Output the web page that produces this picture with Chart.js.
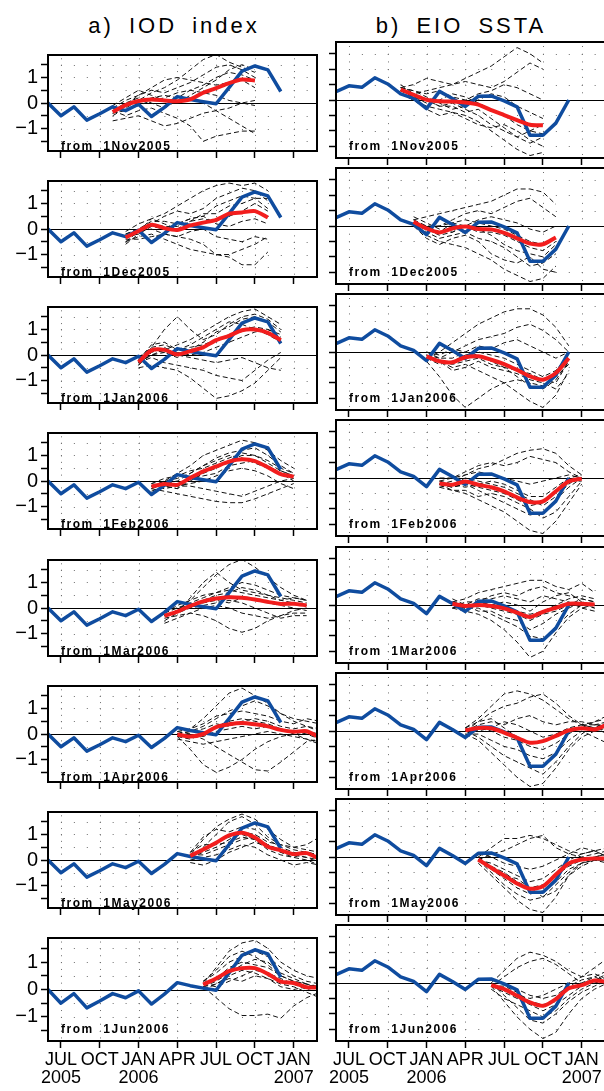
<!DOCTYPE html>
<html>
<head>
<meta charset="utf-8">
<script src="https://cdn.jsdelivr.net/npm/chart.js@4.4.0/dist/chart.umd.min.js"></script>
<style>
html, body { margin:0; padding:0; background:#fff; overflow:hidden; }
#page { position:relative; width:604px; height:1091px; overflow:hidden; }
canvas { position:absolute; }
.title { position:absolute; width:300px; text-align:center; font-family:'Liberation Sans', Arial, sans-serif; font-size:22px; line-height:22px; letter-spacing:3px; word-spacing:6px; white-space:pre; color:#000; }
.from { position:absolute; font-family:'Liberation Sans', Arial, sans-serif; font-weight:bold; font-size:12px; line-height:12px; letter-spacing:1.5px; white-space:pre; color:#000; }
</style>
</head>
<body>
<div id="page"></div>
<script>
// axes
const months = ['Jun2005','Jul2005','Aug2005','Sep2005','Oct2005','Nov2005','Dec2005','Jan2006','Feb2006','Mar2006','Apr2006','May2006',
                'Jun2006','Jul2006','Aug2006','Sep2006','Oct2006','Nov2006','Dec2006','Jan2007','Feb2007','Mar2007','Apr2007','May2007']
const tickMonths = ['Jul2005','Oct2005','Jan2006','Apr2006','Jul2006','Oct2006','Jan2007']
const tickLabels = [['JUL','2005'],['OCT',''],['JAN','2006'],['APR',''],['JUL',''],['OCT',''],['JAN','2007']]
const yTicks = [-1.5,-1,-0.5,0,0.5,1,1.5]
const yLabels = ['','−1','','0','','1','']
const panelTitles = ['a) IOD index','b) EIO SSTA']
const startDates = ['1Nov2005','1Dec2005','1Jan2006','1Feb2006','1Mar2006','1Apr2006','1May2006','1Jun2006']

// observed (Jun2005 .. Dec2006)
const iodObs = [0,-0.5,-0.15,-0.67,-0.42,-0.15,-0.3,-0.05,-0.53,-0.17,0.25,0.14,0.05,-0.03,0.6,1.25,1.45,1.3,0.45]
const eioObs = [0.27,0.46,0.41,0.72,0.52,0.2,0.05,-0.28,0.28,0.05,-0.21,0.12,0.13,-0.03,-0.22,-1.14,-1.14,-0.75,0]

// ensemble mean, 12 months from each start
const iodMean = [
  [-0.35,-0.08,0.08,0.14,0.1,0.07,0.14,0.4,0.58,0.78,0.92,0.88],
  [-0.33,-0.08,0.17,0.03,-0.04,0.14,0.25,0.36,0.6,0.65,0.7,0.45],
  [-0.28,0.18,0.2,0.02,0.15,0.3,0.58,0.75,0.97,1.0,0.87,0.58],
  [-0.22,-0.12,-0.15,0.12,0.38,0.57,0.76,0.85,0.78,0.54,0.27,0.17],
  [-0.3,-0.14,0.08,0.26,0.37,0.42,0.4,0.33,0.24,0.16,0.17,0.1],
  [-0.02,-0.1,0,0.27,0.38,0.43,0.38,0.3,0.16,0.09,0.11,-0.13],
  [0.16,0.41,0.68,0.96,1.07,0.88,0.52,0.38,0.23,0.27,0.05,-0.05],
  [0.18,0.4,0.67,0.78,0.78,0.57,0.29,0.24,0.08,0.08,0.05,0.03]
]
const eioMean = [
  [0.34,0.17,0.01,-0.04,-0.05,-0.08,-0.15,-0.33,-0.49,-0.65,-0.8,-0.82],
  [0.14,-0.08,-0.21,-0.08,-0.02,-0.1,-0.11,-0.22,-0.4,-0.57,-0.59,-0.37],
  [-0.14,-0.3,-0.33,-0.17,-0.14,-0.25,-0.39,-0.58,-0.79,-0.9,-0.68,-0.2],
  [-0.18,-0.22,-0.11,-0.22,-0.3,-0.43,-0.63,-0.78,-0.76,-0.43,-0.11,-0.02],
  [0.04,-0.03,0,-0.03,-0.11,-0.25,-0.39,-0.22,-0.09,0.04,0.04,0.02],
  [0.02,0.1,0.09,-0.05,-0.22,-0.38,-0.33,-0.16,0.02,0.09,0.05,0.22],
  [-0.08,-0.35,-0.6,-0.86,-1.03,-0.95,-0.57,-0.21,-0.08,-0.05,-0.05,-0.05],
  [-0.07,-0.2,-0.41,-0.63,-0.74,-0.52,-0.17,-0.07,0.08,0.04,0.05,0.05]
]

// ensemble members (dashed)
const iodEnsNov2005 = [
  [-0.5,-0.2,0.1,0.4,0.6,0.9,1.3,1.7,1.9,1.6,1.4,1.2],
  [-0.2,0.1,0.3,0.5,0.4,0.6,0.8,1.1,1.4,1.5,1.3,1.0],
  [-0.4,-0.3,0.0,0.2,0.3,0.2,0.5,0.7,1.0,1.2,1.1,0.9],
  [-0.3,-0.5,-0.3,-0.2,-0.4,-0.6,-0.9,-1.5,-1.3,-1.2,-1.1,-1.1],
  [-0.7,-0.6,-0.5,-0.7,-0.9,-0.8,-0.6,-0.4,-0.3,-0.2,0.0,0.1],
  [-0.1,0.2,0.5,0.3,0.1,0.0,0.3,0.6,0.9,1.3,1.5,1.3],
  [-0.3,0.0,0.2,0.0,-0.2,0.1,0.2,0.0,-0.3,-0.6,-0.9,-1.2],
  [-0.4,-0.1,0.3,0.6,0.9,1.0,0.9,0.8,0.7,0.8,0.9,0.6],
  [-0.2,-0.3,-0.1,0.1,0.2,0.4,0.5,0.4,0.3,0.1,0.0,-0.1]
]
const iodEnsDec2005 = [
  [-0.5,-0.1,0.4,0.6,0.9,1.2,1.5,1.7,1.8,1.7,1.8,1.5],
  [-0.2,0.0,0.2,0.5,0.7,0.6,0.8,1.2,1.4,1.6,1.5,1.1],
  [-0.3,-0.2,0.1,0.0,0.2,0.4,0.5,0.9,1.1,1.3,1.2,0.8],
  [-0.5,-0.3,-0.2,-0.4,-0.6,-0.8,-0.9,-1.0,-1.1,-1.4,-1.4,-0.9],
  [-0.4,-0.4,-0.3,-0.2,-0.3,-0.4,-0.6,-1.0,-1.0,-0.8,-0.6,-0.3],
  [-0.1,0.2,0.4,0.2,0.0,0.3,0.4,0.3,0.5,0.7,1.0,0.7],
  [-0.3,-0.1,0.0,-0.2,-0.3,-0.1,0.0,-0.3,-0.4,-0.5,-0.3,-0.4],
  [-0.6,-0.2,0.2,0.1,0.1,0.3,0.6,0.6,0.9,1.0,1.2,1.2],
  [-0.2,0.0,0.3,0.3,0.2,0.4,0.5,0.2,0.1,0.3,0.4,0.2]
]
const iodEnsJan2006 = [
  [-0.4,0.3,1.0,1.5,1.0,0.6,0.8,1.2,1.5,1.6,1.4,1.0],
  [-0.3,0.0,0.2,0.4,0.6,0.9,1.2,1.5,1.7,1.8,1.5,1.2],
  [-0.2,0.2,0.1,-0.1,0.2,0.5,0.9,1.1,1.4,1.5,1.3,0.9],
  [-0.5,-0.4,-0.5,-0.6,-0.9,-1.3,-1.7,-1.6,-1.4,-1.1,-0.6,-0.1],
  [-0.3,-0.1,-0.3,-0.4,-0.5,-0.6,-0.8,-0.9,-1.0,-0.6,-0.2,0.1],
  [-0.1,0.3,0.4,0.2,0.3,0.4,0.6,0.8,1.0,1.1,1.0,0.7],
  [-0.4,0.1,0.3,0.0,-0.1,-0.2,-0.3,-0.2,-0.1,-0.3,-0.5,-0.6],
  [-0.2,0.4,0.5,0.2,0.4,0.7,1.0,1.3,1.2,1.0,0.8,0.5],
  [-0.3,0.0,0.1,0.1,0.0,0.1,0.3,0.5,0.7,0.9,1.0,0.8]
]
const iodEnsFeb2006 = [
  [-0.3,0.0,0.3,0.6,1.0,1.2,1.4,1.6,1.5,1.2,0.8,0.5],
  [-0.2,-0.1,0.0,0.3,0.6,0.9,1.1,1.2,1.3,1.0,0.6,0.3],
  [-0.1,-0.2,-0.3,0.0,0.3,0.5,0.8,1.0,1.0,0.7,0.4,0.2],
  [-0.3,-0.4,-0.5,-0.6,-0.7,-0.8,-0.85,-0.85,-0.7,-0.5,-0.3,-0.1],
  [-0.2,-0.3,-0.2,-0.1,0.0,0.2,0.4,0.5,0.4,0.2,-0.1,-0.3],
  [-0.1,0.1,0.2,0.4,0.5,0.7,0.9,1.1,1.0,0.8,0.5,0.3],
  [-0.4,-0.2,-0.3,0.1,0.2,0.3,0.6,0.7,0.8,0.6,0.3,0.0],
  [-0.2,0.0,0.1,0.3,0.6,0.8,1.0,0.9,0.7,0.5,0.4,0.2],
  [-0.3,-0.1,-0.2,-0.2,-0.3,-0.4,-0.5,-0.6,-0.4,-0.2,0.0,0.1]
]
const iodEnsMar2006 = [
  [-0.3,-0.1,0.3,0.8,1.3,1.7,1.9,1.6,1.2,0.8,0.5,0.3],
  [-0.5,-0.2,0.4,1.0,1.4,1.0,0.7,0.6,0.5,0.4,0.3,0.2],
  [-0.2,0.0,0.2,0.4,0.6,0.8,1.0,0.9,0.7,0.5,0.4,0.3],
  [-0.4,-0.3,-0.2,-0.3,-0.5,-0.8,-0.95,-0.8,-0.5,-0.3,-0.2,-0.2],
  [-0.3,-0.2,0.0,0.1,0.2,0.3,0.2,0.0,-0.2,-0.4,-0.3,-0.3],
  [-0.2,0.1,0.3,0.5,0.6,0.7,0.6,0.5,0.4,0.3,0.4,0.3],
  [-0.6,-0.4,-0.2,0.0,0.1,0.0,-0.2,-0.3,-0.4,-0.3,-0.1,0.0],
  [-0.1,0.0,0.1,0.3,0.5,0.6,0.8,0.7,0.5,0.3,0.2,0.1],
  [-0.3,-0.1,0.1,0.2,0.3,0.2,0.4,0.3,0.2,0.1,0.0,-0.1]
]
const iodEnsApr2006 = [
  [0.0,0.2,0.6,1.1,1.6,1.8,1.5,1.2,0.8,0.6,0.5,0.4],
  [-0.1,-0.6,-1.2,-1.5,-1.3,-1.0,-0.6,-0.3,-0.1,0.0,0.1,0.0],
  [0.1,0.0,-0.2,-0.5,-0.8,-1.1,-1.4,-1.45,-1.1,-0.7,-0.3,-0.2],
  [0.0,0.1,0.3,0.6,0.9,1.1,1.3,1.1,0.8,0.5,0.3,0.2],
  [-0.1,-0.2,0.0,0.3,0.5,0.6,0.5,0.4,0.2,0.0,-0.2,-0.4],
  [0.1,0.2,0.4,0.7,0.8,0.9,0.8,0.7,0.5,0.4,0.6,0.5],
  [-0.2,-0.3,-0.4,-0.3,-0.2,-0.1,0.0,0.1,0.0,-0.1,-0.2,-0.3],
  [0.0,0.1,0.2,0.4,0.3,0.5,0.6,0.5,0.3,0.2,0.3,0.1],
  [-0.1,0.0,-0.1,0.1,0.2,0.3,0.2,0.3,0.2,0.1,0.0,-0.2]
]
const iodEnsMay2006 = [
  [0.2,0.8,1.3,1.6,1.8,1.6,1.2,0.8,0.5,0.6,0.9,1.1],
  [0.1,0.5,1.0,1.5,1.7,1.4,0.9,0.6,0.4,0.3,0.2,0.1],
  [0.3,0.9,1.2,1.1,1.3,1.2,0.8,0.5,0.3,0.2,0.3,0.4],
  [0.0,0.1,0.2,0.4,0.6,0.5,0.2,0.0,-0.2,-0.1,-0.2,-0.3],
  [0.2,0.4,0.7,0.9,1.0,0.8,0.6,0.4,0.2,0.1,0.0,-0.1],
  [-0.1,-0.2,0.0,0.3,0.5,0.7,0.5,0.3,0.1,0.0,-0.2,-0.2],
  [0.1,0.3,0.5,0.8,1.1,1.0,0.7,0.6,0.5,0.4,0.3,0.2],
  [0.3,0.6,0.6,0.7,0.9,0.8,0.4,0.2,0.1,0.3,0.2,0.0],
  [0.2,0.2,0.4,0.6,0.8,0.9,0.6,0.3,0.2,0.1,-0.1,-0.1]
]
const iodEnsJun2006 = [
  [0.2,0.8,1.4,1.7,1.8,1.5,1.0,0.7,0.5,0.4,0.6,0.9],
  [0.1,-0.3,-0.7,-0.95,-0.95,-0.9,-1.05,-0.6,-0.3,-0.1,0.0,0.1],
  [0.3,0.6,1.0,1.2,1.4,1.2,0.8,0.5,0.3,0.2,0.0,-0.1],
  [0.0,0.2,0.5,0.7,0.6,0.4,0.2,0.1,-0.1,-0.3,-0.2,-0.2],
  [0.2,0.4,0.8,1.0,0.9,0.8,0.5,0.3,0.2,0.1,0.2,0.3],
  [0.1,0.3,0.6,0.9,1.1,1.0,0.6,0.4,0.2,0.0,-0.1,-0.2],
  [0.2,0.1,0.3,0.5,0.7,0.6,0.4,0.2,0.0,0.1,0.3,0.2],
  [0.3,0.7,1.2,1.4,1.2,0.9,0.5,0.3,0.2,0.0,0.0,0.1],
  [0.1,0.2,0.4,0.3,0.5,0.4,0.1,0.0,0.1,0.2,0.0,-0.1]
]
const eioEnsNov2005 = [
  [0.4,0.5,0.7,0.6,0.5,0.7,0.9,1.1,1.4,1.7,1.5,1.2],
  [0.3,0.2,0.3,0.4,0.5,0.6,0.5,0.4,0.6,0.9,1.2,1.0],
  [0.2,0.0,-0.2,-0.3,-0.4,-0.5,-0.7,-1.0,-1.3,-1.6,-1.8,-1.7],
  [0.5,0.2,0.0,-0.2,-0.1,-0.3,-0.5,-0.8,-1.0,-1.2,-1.4,-1.2],
  [0.3,0.1,-0.1,0.0,0.2,0.1,-0.1,-0.3,-0.5,-0.8,-1.0,-1.1],
  [0.4,0.3,0.1,-0.1,-0.3,-0.2,0.0,0.2,0.1,-0.2,-0.4,-0.6],
  [0.2,0.0,-0.3,-0.5,-0.4,-0.6,-0.8,-0.9,-0.8,-1.0,-1.3,-1.5],
  [0.4,0.3,0.2,0.3,0.1,0.0,0.2,0.3,0.5,0.4,0.2,0.0],
  [0.3,0.1,0.0,-0.2,-0.2,-0.4,-0.3,-0.6,-0.9,-1.2,-1.0,-0.8]
]
const eioEnsDec2005 = [
  [0.2,0.3,0.4,0.5,0.6,0.7,0.8,1.0,1.2,1.2,1.1,0.7],
  [0.1,-0.1,0.0,0.2,0.4,0.5,0.4,0.6,0.8,0.9,0.6,0.3],
  [0.0,-0.3,-0.5,-0.6,-0.7,-0.9,-1.1,-1.4,-1.6,-1.8,-1.7,-1.3],
  [0.2,-0.2,-0.4,-0.3,-0.2,-0.4,-0.5,-0.7,-1.0,-1.3,-1.2,-0.9],
  [0.1,0.0,-0.2,0.1,0.2,0.1,0.0,-0.1,-0.3,-0.5,-0.6,-0.4],
  [0.3,0.1,-0.1,-0.2,0.0,-0.1,-0.3,-0.6,-0.8,-0.9,-1.0,-0.6],
  [0.0,-0.4,-0.6,-0.4,-0.3,-0.5,-0.9,-1.1,-1.2,-1.0,-1.4,-1.5],
  [0.2,0.0,0.0,0.1,0.0,0.2,0.3,0.2,0.1,-0.1,-0.2,0.0],
  [0.1,-0.1,-0.3,-0.2,0.0,-0.2,-0.2,-0.3,-0.5,-0.7,-0.8,-0.5]
]
const eioEnsJan2006 = [
  [-0.2,0.0,0.3,0.6,0.9,1.1,1.3,1.4,1.4,1.2,0.8,0.2],
  [-0.1,-0.2,0.0,0.2,0.4,0.5,0.6,0.8,0.9,0.7,0.4,0.0],
  [-0.3,-0.8,-1.4,-1.8,-1.5,-1.2,-1.0,-0.9,-1.0,-1.1,-0.8,-0.4],
  [-0.1,-0.3,-0.5,-0.4,-0.6,-0.8,-1.0,-1.3,-1.6,-1.8,-1.4,-0.6],
  [0.0,-0.2,-0.2,0.0,-0.1,-0.3,-0.5,-0.8,-1.1,-1.2,-0.9,-0.3],
  [-0.2,-0.4,-0.3,-0.1,0.0,-0.1,-0.2,-0.4,-0.6,-0.8,-0.6,-0.1],
  [-0.1,-0.3,-0.6,-0.5,-0.3,-0.5,-0.6,-0.7,-0.9,-1.0,-1.2,-0.7],
  [0.0,-0.1,0.1,0.0,0.2,0.1,0.3,0.4,0.2,0.0,-0.2,0.0],
  [-0.2,-0.3,-0.4,-0.3,-0.2,-0.4,-0.5,-0.6,-0.7,-0.9,-1.0,-0.3]
]
const eioEnsFeb2006 = [
  [-0.2,-0.1,0.1,0.3,0.4,0.6,0.8,0.9,0.95,0.8,0.4,0.1],
  [-0.1,0.0,0.2,0.4,0.5,0.4,0.5,0.7,0.6,0.5,0.2,0.0],
  [-0.3,-0.4,-0.5,-0.7,-0.9,-1.1,-1.4,-1.7,-1.8,-1.4,-0.8,-0.2],
  [-0.2,-0.3,-0.2,-0.4,-0.6,-0.8,-1.0,-1.2,-1.1,-0.7,-0.3,0.0],
  [-0.1,-0.2,0.0,-0.1,-0.2,-0.3,-0.5,-0.7,-0.9,-0.6,-0.2,0.1],
  [-0.3,-0.2,-0.3,-0.2,-0.1,-0.2,-0.4,-0.6,-0.6,-0.3,0.0,0.1],
  [-0.2,-0.4,-0.4,-0.6,-0.5,-0.6,-0.8,-1.0,-1.3,-1.1,-0.6,-0.1],
  [0.0,0.0,0.1,0.2,0.1,0.0,-0.1,-0.2,-0.1,0.0,0.1,0.0],
  [-0.2,-0.3,-0.2,-0.3,-0.4,-0.5,-0.7,-0.9,-0.8,-0.4,-0.1,-0.1]
]
const eioEnsMar2006 = [
  [0.1,0.2,0.4,0.5,0.6,0.7,0.8,0.8,0.6,0.5,0.7,0.4],
  [0.0,-0.1,0.1,0.3,0.4,0.3,0.5,0.6,0.4,0.3,0.2,0.1],
  [-0.1,-0.2,-0.3,-0.5,-0.8,-1.2,-1.7,-1.5,-0.9,-0.4,-0.1,0.0],
  [0.0,-0.1,-0.1,-0.3,-0.5,-0.7,-1.0,-1.1,-0.7,-0.3,0.0,-0.1],
  [0.2,0.0,0.0,0.1,0.0,-0.2,-0.3,-0.2,0.0,0.2,0.3,0.2],
  [-0.1,0.0,0.2,0.2,0.3,0.2,0.1,0.3,0.2,0.1,-0.1,-0.2],
  [0.1,0.0,-0.2,-0.2,-0.4,-0.5,-0.8,-0.6,-0.3,-0.1,0.1,0.0],
  [0.0,-0.1,0.0,-0.1,-0.2,-0.3,-0.5,-0.3,-0.2,0.0,0.2,0.1],
  [-0.1,0.1,0.1,0.0,0.1,0.0,-0.2,0.1,0.3,0.4,0.1,-0.1]
]
const eioEnsApr2006 = [
  [0.1,0.4,0.8,1.2,1.3,1.2,1.0,0.7,0.4,0.2,0.3,0.5],
  [0.0,0.3,0.6,0.8,0.9,1.1,1.2,0.9,0.5,0.2,0.1,0.3],
  [-0.1,-0.3,-0.7,-1.1,-1.5,-1.8,-1.7,-1.2,-0.6,-0.2,0.0,0.1],
  [0.0,-0.2,-0.5,-0.8,-1.0,-1.2,-1.4,-1.0,-0.5,-0.1,0.2,0.3],
  [0.1,0.0,0.1,0.3,0.2,0.0,-0.2,-0.1,0.1,0.2,0.1,-0.1],
  [0.0,0.2,0.3,0.2,0.4,0.5,0.3,0.2,0.3,0.3,0.2,0.2],
  [-0.1,-0.1,-0.3,-0.5,-0.6,-0.8,-0.9,-0.7,-0.3,0.0,-0.2,-0.4],
  [0.1,0.3,0.4,0.1,-0.2,-0.4,-0.3,-0.2,0.0,0.1,0.3,0.4],
  [0.0,0.1,0.0,-0.2,-0.3,-0.5,-0.6,-0.4,-0.1,0.2,0.2,0.1]
]
const eioEnsMay2006 = [
  [0.0,0.3,0.6,0.6,0.7,0.6,0.4,0.2,0.1,0.2,0.3,0.4],
  [-0.1,0.1,0.2,0.4,0.6,0.7,0.3,0.1,0.0,0.1,0.2,0.1],
  [-0.2,-0.6,-1.0,-1.4,-1.7,-1.8,-1.3,-0.6,-0.2,0.0,0.1,0.0],
  [-0.1,-0.5,-0.9,-1.2,-1.4,-1.3,-0.9,-0.5,-0.2,-0.1,-0.1,-0.2],
  [0.0,-0.3,-0.5,-0.8,-1.0,-0.9,-0.6,-0.3,-0.1,0.0,0.1,0.0],
  [-0.1,-0.2,-0.4,-0.6,-0.8,-0.7,-0.4,-0.1,0.1,0.2,0.0,-0.1],
  [0.0,-0.4,-0.7,-1.0,-1.2,-1.1,-0.8,-0.4,-0.2,-0.1,-0.2,-0.1],
  [0.1,0.0,-0.2,-0.3,-0.4,-0.3,-0.1,0.1,0.3,0.2,0.0,0.1],
  [-0.1,-0.3,-0.6,-0.7,-1.0,-1.3,-1.1,-0.6,-0.3,-0.1,-0.1,-0.2]
]
const eioEnsJun2006 = [
  [0.0,0.4,0.8,1.0,0.9,0.7,0.4,0.2,0.5,0.8,0.6,0.4],
  [-0.1,0.2,0.5,0.7,0.8,0.6,0.3,0.0,0.2,0.4,0.3,0.2],
  [-0.1,-0.6,-1.1,-1.5,-1.8,-1.6,-1.0,-0.5,-0.2,0.0,0.1,0.0],
  [0.0,-0.4,-0.8,-1.2,-1.3,-1.0,-0.6,-0.3,-0.1,0.1,-0.1,-0.2],
  [-0.1,-0.3,-0.5,-0.7,-0.9,-0.7,-0.4,-0.1,0.1,0.2,0.3,0.1],
  [0.1,0.0,-0.2,-0.4,-0.5,-0.4,-0.1,0.1,0.2,0.0,-0.1,-0.1],
  [-0.2,-0.5,-0.7,-0.9,-1.1,-0.9,-0.5,-0.2,0.0,0.1,0.0,0.1],
  [0.0,-0.2,-0.4,-0.5,-0.4,-0.2,0.0,0.2,0.3,0.1,0.0,-0.1],
  [-0.1,-0.1,-0.3,-0.6,-0.7,-0.6,-0.2,0.0,0.1,0.3,0.2,0.0]
]
const iodEns = [iodEnsNov2005, iodEnsDec2005, iodEnsJan2006, iodEnsFeb2006, iodEnsMar2006, iodEnsApr2006, iodEnsMay2006, iodEnsJun2006]
const eioEns = [eioEnsNov2005, eioEnsDec2005, eioEnsJan2006, eioEnsFeb2006, eioEnsMar2006, eioEnsApr2006, eioEnsMay2006, eioEnsJun2006]

// layout
const plotW = 269, plotH = 116, yAxisW = 48
const colLeft = [48, 336]
const rowTop = [42, 168, 294, 420, 547, 673, 799, 925]
const page = document.getElementById('page')

const gradsPlugin = {
    id: 'grads',
    beforeDatasetsDraw(chart) {
        const {ctx, chartArea: a, scales: {x, y}} = chart
        const monthPx = x.getPixelForValue(1) - x.getPixelForValue(0)
        const quarterPx = y.getPixelForValue(0) - y.getPixelForValue(0.25)
        ctx.save()
        ctx.strokeStyle = '#6e6e6e'
        ctx.lineWidth = 1
        // vertical dotted lines, one dot each 0.25
        tickMonths.forEach(m => {
            const px = Math.round(x.getPixelForValue(months.indexOf(m))) + 0.5
            const y0 = y.getPixelForValue(0)
            ctx.setLineDash([1, quarterPx - 1])
            ctx.lineDashOffset = -((y0 - a.top) % quarterPx)
            ctx.beginPath(); ctx.moveTo(px, a.top); ctx.lineTo(px, a.bottom); ctx.stroke()
        })
        // horizontal dotted lines, one dot each month
        yTicks.forEach(v => {
            if (v === 0) return
            const py = Math.round(y.getPixelForValue(v)) + 0.5
            ctx.setLineDash([1, monthPx - 1])
            ctx.lineDashOffset = 0
            ctx.beginPath(); ctx.moveTo(a.left, py); ctx.lineTo(a.right, py); ctx.stroke()
        })
        ctx.setLineDash([])
        ctx.strokeStyle = '#000'
        ctx.lineWidth = 1
        const p0 = Math.round(y.getPixelForValue(0)) + 0.5
        ctx.beginPath(); ctx.moveTo(a.left, p0); ctx.lineTo(a.right, p0); ctx.stroke()
        ctx.restore()
    },
    afterDraw(chart) {
        const {ctx, chartArea: a} = chart
        ctx.save()
        ctx.strokeStyle = '#000'
        ctx.lineWidth = 2
        ctx.strokeRect(a.left, a.top, a.right - a.left, a.bottom - a.top)
        ctx.restore()
    }
}

function makePanel(col, row) {
    const last = row === rowTop.length - 1
    const obs = col === 0 ? iodObs : eioObs
    const mean = (col === 0 ? iodMean : eioMean)[row]
    const ens = (col === 0 ? iodEns : eioEns)[row]
    const start = months.indexOf(startDates[row].slice(1))
    const xAxisH = last ? 56 : 8

    const canvas = document.createElement('canvas')
    canvas.width = yAxisW + plotW + 2
    canvas.height = 2 + plotH + xAxisH
    canvas.style.left = (colLeft[col] - yAxisW) + 'px'
    canvas.style.top = (rowTop[row] - 2) + 'px'
    page.appendChild(canvas)

    const lab = document.createElement('div')
    lab.className = 'from'
    lab.textContent = 'from  ' + startDates[row]
    lab.style.left = (colLeft[col] + 13) + 'px'
    lab.style.top = (rowTop[row] + 98) + 'px'
    page.appendChild(lab)

    const datasets = [{
        data: mean.map((v, j) => ({x: start + j, y: v})),
        borderColor: '#f21d1d', borderWidth: 4, tension: 0.25, borderJoinStyle: 'round', clip: 0
    }, {
        data: obs.map((v, i) => ({x: i, y: v})),
        borderColor: '#0f4c9f', borderWidth: 3.5, tension: 0, borderJoinStyle: 'round', clip: 0
    }]
    ens.forEach(m => datasets.push({
        data: m.map((v, j) => ({x: start + j, y: v})),
        borderColor: '#111', borderWidth: 1, borderDash: [5, 3], tension: 0, clip: 0
    }))

    new Chart(canvas.getContext('2d'), {
        type: 'line',
        data: {datasets},
        options: {
            responsive: false,
            animation: false,
            events: [],
            layout: {padding: {top: 2, right: 2, left: 0, bottom: 0}},
            elements: {point: {radius: 0}},
            plugins: {legend: {display: false}, tooltip: {enabled: false}},
            scales: {
                x: {
                    type: 'linear', min: 0, max: 20.8,
                    afterBuildTicks: s => { s.ticks = tickMonths.map(m => ({value: months.indexOf(m)})) },
                    afterFit: s => { s.height = xAxisH },
                    ticks: {
                        display: last, autoSkip: false, maxRotation: 0, padding: 3, color: '#000',
                        font: {family: "'Liberation Sans', Arial, sans-serif", size: 18, lineHeight: 1.0},
                        callback: (v, i) => tickLabels[i]
                    },
                    grid: {drawOnChartArea: false, drawTicks: true, tickLength: 7, tickColor: '#000', tickWidth: 1.5},
                    border: {display: false}
                },
                y: {
                    min: -1.88, max: 1.88,
                    afterBuildTicks: s => { s.ticks = yTicks.map(v => ({value: v})) },
                    afterFit: s => { s.width = yAxisW },
                    ticks: {
                        display: col === 0, autoSkip: false, padding: 3, color: '#000',
                        font: {family: "'Liberation Sans', Arial, sans-serif", size: 20},
                        callback: (v, i) => yLabels[i]
                    },
                    grid: {drawOnChartArea: false, drawTicks: true, tickLength: 7, tickColor: '#000', tickWidth: 1.5},
                    border: {display: false}
                }
            }
        },
        plugins: [gradsPlugin]
    })
}

panelTitles.forEach((t, col) => {
    const d = document.createElement('div')
    d.className = 'title'
    d.textContent = t
    d.style.left = ([174, 461][col] - 150) + 'px'
    d.style.top = '15px'
    page.appendChild(d)
})

for (let row = 0; row < rowTop.length; row++) {
    makePanel(0, row)
    makePanel(1, row)
}
</script>
</body>
</html>
